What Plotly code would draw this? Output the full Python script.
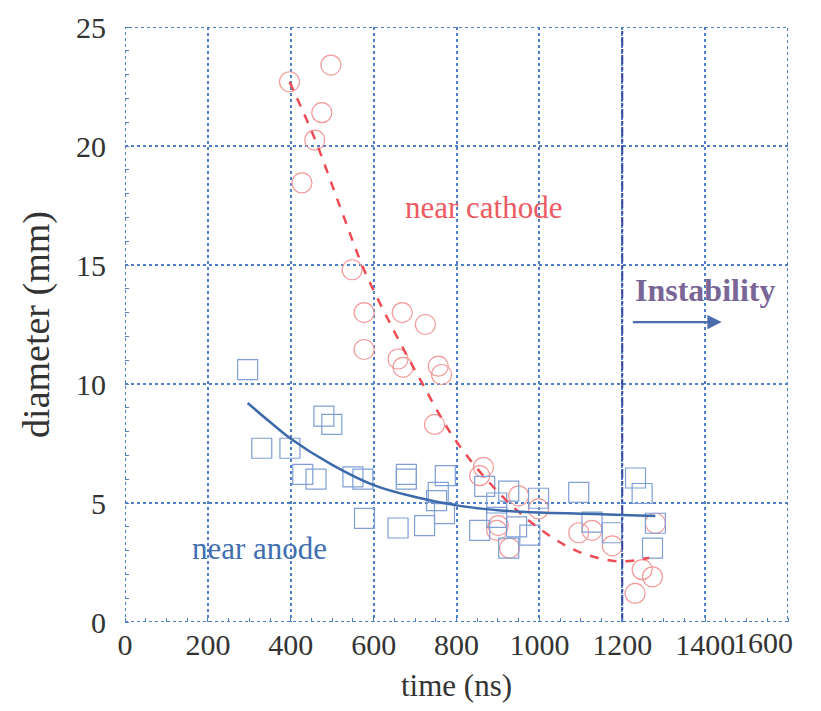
import plotly.graph_objects as go

# cathode data (circles)
cath_t = [397, 497, 475, 458, 427, 548, 577, 669, 725, 577, 659, 671, 756, 764, 747,
          865, 856, 950, 998, 901, 897, 928, 1095, 1127, 1176, 1280, 1248, 1273, 1231]
cath_d = [22.7, 23.4, 21.4, 20.25, 18.45, 14.8, 13.0, 13.0, 12.5, 11.45, 11.05, 10.7, 10.75, 10.4, 8.3,
          6.5, 6.15, 5.3, 4.75, 4.05, 3.85, 3.1, 3.75, 3.85, 3.2, 4.15, 2.2, 1.9, 1.2]

# anode data (squares)
anode_t = [296, 480, 499, 330, 398, 429, 461, 550, 574, 679, 679, 578, 659, 723, 773,
           756, 752, 771, 868, 926, 897, 897, 856, 926, 945, 977, 998, 1095, 1127, 1176,
           1232, 1248, 1280, 1273]
anode_d = [10.6, 8.65, 8.3, 7.3, 7.3, 6.2, 6.0, 6.1, 6.0, 6.2, 6.0, 4.35, 3.95, 4.05, 6.15,
           5.45, 5.1, 4.55, 5.7, 5.5, 5.0, 4.4, 3.85, 3.1, 4.0, 3.65, 5.2, 5.45, 4.2, 3.75,
           6.05, 5.4, 4.15, 3.1]

# fitted curves
cath_fit_t = [397, 458, 520, 577, 650, 715, 795, 901, 998, 1095, 1192, 1265]
cath_fit_d = [22.7, 20.3, 17.4, 14.8, 12.2, 10.1, 7.7, 5.45, 3.95, 2.95, 2.55, 2.7]
anode_fit_t = [296, 350, 400, 500, 600, 700, 800, 900, 1000, 1100, 1200, 1280]
anode_fit_d = [9.2, 8.4, 7.7, 6.6, 5.75, 5.25, 4.9, 4.7, 4.6, 4.55, 4.5, 4.45]

x_ticks = [0, 200, 400, 600, 800, 1000, 1200, 1400, 1600]
y_ticks = [0, 5, 10, 15, 20, 25]
instab_t = 1200

SERIF = "Liberation Serif, Times New Roman, serif"
GRID = "#4f7fc8"

fig = go.Figure()
fig.add_trace(go.Scatter(x=cath_t, y=cath_d, mode="markers",
                         marker=dict(symbol="circle-open", size=20, color="#f29a9a", line=dict(width=1.2))))
fig.add_trace(go.Scatter(x=anode_t, y=anode_d, mode="markers",
                         marker=dict(symbol="square-open", size=20, color="#7f9fd6", line=dict(width=1.2))))
fig.add_trace(go.Scatter(x=cath_fit_t, y=cath_fit_d, mode="lines",
                         line=dict(color="#ee4b55", width=2.5, dash="dash", shape="spline")))
fig.add_trace(go.Scatter(x=anode_fit_t, y=anode_fit_d, mode="lines",
                         line=dict(color="#3d6aaa", width=2.5, shape="spline")))
fig.add_trace(go.Scatter(x=[instab_t, instab_t], y=[y_ticks[0], y_ticks[-1]], mode="lines",
                         line=dict(color="#34489a", width=2, dash="dashdot")))

fig.add_shape(type="rect", xref="x", yref="y", x0=x_ticks[0], x1=x_ticks[-1], y0=y_ticks[0], y1=y_ticks[-1],
              line=dict(color=GRID, width=2, dash="dot"))

fig.add_annotation(x=1226, y=13.95, text="<b>Instability</b>", showarrow=False, xanchor="left",
                   font=dict(family=SERIF, size=32, color="#7a6696"))
fig.add_annotation(x=1440, y=12.6, ax=1222, ay=12.6, xref="x", yref="y", axref="x", ayref="y",
                   text="", showarrow=True, arrowhead=2, arrowsize=1.3, arrowwidth=2.2, arrowcolor="#4b6cad")
fig.add_annotation(x=671, y=17.4, text="near cathode", showarrow=False, xanchor="left",
                   font=dict(family=SERIF, size=31, color="#ee5a62"))
fig.add_annotation(x=157, y=3.1, text="near anode", showarrow=False, xanchor="left",
                   font=dict(family=SERIF, size=31, color="#3f6fb0"))
# last x tick label, right-aligned so it stays inside the page (as in the reference)
fig.add_annotation(x=x_ticks[-1], y=0, xref="x", yref="paper", text=str(x_ticks[-1]), showarrow=False,
                   xanchor="right", yanchor="top", xshift=7, yshift=-2,
                   font=dict(family=SERIF, size=30, color="#333333"))

x_text = [str(v) for v in x_ticks[:-1]] + [""]

fig.update_layout(
    width=821, height=711, showlegend=False,
    paper_bgcolor="white", plot_bgcolor="white",
    margin=dict(l=117, r=41, t=19, b=97),
    font=dict(family=SERIF, size=30, color="#333333"),
)
fig.update_xaxes(range=[x_ticks[0], x_ticks[-1]], tickvals=x_ticks, ticktext=x_text, ticks="", showgrid=True,
                 gridcolor=GRID, gridwidth=2, griddash="dot", zeroline=False, showline=False,
                 automargin=False, tickfont=dict(size=30), ticklabelstandoff=2,
                 title=dict(text="time (ns)", font=dict(size=31), standoff=14),
                 minor=dict(ticks="inside", ticklen=4, tickcolor=GRID, dtick=50, showgrid=False))
fig.update_yaxes(range=[y_ticks[0], y_ticks[-1]], tickvals=y_ticks, ticks="", showgrid=True,
                 gridcolor=GRID, gridwidth=2, griddash="dot", zeroline=False, showline=False,
                 automargin=False, tickfont=dict(size=30), ticklabelstandoff=18,
                 title=dict(text="diameter (mm)", font=dict(size=38), standoff=14),
                 minor=dict(ticks="inside", ticklen=4, tickcolor=GRID, dtick=1, showgrid=False))

fig.write_html("out.html")
